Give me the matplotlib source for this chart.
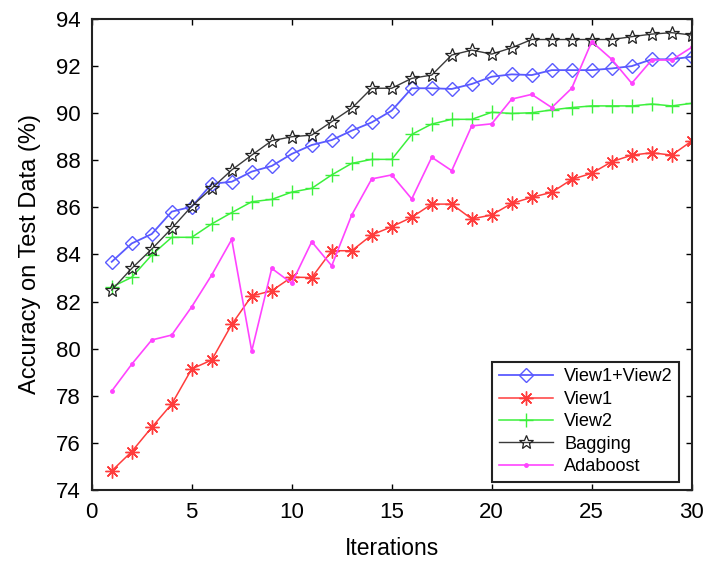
import matplotlib
matplotlib.use("Agg")
import matplotlib.pyplot as plt
import numpy as np

plt.rcParams['font.family'] = ['Liberation Sans', 'DejaVu Sans']

iterations = list(range(1, 31))

view12 = [83.69, 84.47, 84.87, 85.82, 86.03, 87.00, 87.09, 87.52, 87.76, 88.27,
          88.65, 88.86, 89.26, 89.61, 90.11, 91.06, 91.06, 91.03, 91.24, 91.55,
          91.65, 91.62, 91.83, 91.83, 91.83, 91.90, 92.00, 92.29, 92.29, 92.40]
view1 = [74.81, 75.63, 76.66, 77.65, 79.14, 79.52, 81.03, 82.24, 82.46, 83.04,
         83.02, 84.16, 84.16, 84.83, 85.18, 85.58, 86.14, 86.14, 85.51, 85.68,
         86.17, 86.43, 86.64, 87.19, 87.45, 87.94, 88.22, 88.32, 88.22, 88.82]
view2 = [82.62, 83.03, 83.98, 84.73, 84.73, 85.30, 85.78, 86.24, 86.34, 86.65,
         86.81, 87.38, 87.87, 88.04, 88.04, 89.10, 89.54, 89.74, 89.74, 90.04,
         89.99, 90.02, 90.14, 90.24, 90.31, 90.31, 90.31, 90.39, 90.31, 90.42]
bagging = [82.49, 83.41, 84.23, 85.11, 86.05, 86.81, 87.59, 88.22, 88.83, 89.00,
           89.07, 89.64, 90.21, 91.06, 91.06, 91.48, 91.62, 92.47, 92.68, 92.51,
           92.78, 93.13, 93.13, 93.13, 93.13, 93.13, 93.25, 93.36, 93.42, 93.32]
adaboost = [78.20, 79.34, 80.37, 80.58, 81.78, 83.13, 84.64, 79.90, 83.41, 82.78,
            84.54, 83.52, 85.68, 87.21, 87.38, 86.36, 88.13, 87.56, 89.46, 89.55,
            90.60, 90.80, 90.24, 91.06, 93.04, 92.29, 91.27, 92.26, 92.26, 92.80]

x_ticks = [0, 5, 10, 15, 20, 25, 30]
y_ticks = [74, 76, 78, 80, 82, 84, 86, 88, 90, 92, 94]

fig = plt.figure(figsize=(7.04, 5.61), dpi=100)
ax = fig.add_axes([0.1303, 0.1266, 0.8523, 0.8395])

asterisk = (8, 2, 0)

ax.plot(iterations, view12, color='#5a5aff', lw=1.3, marker='D', ms=7,
        mfc='none', mec='#5a5aff', mew=1.0, label='View1+View2')
ax.plot(iterations, view1, color='#ff3c3c', lw=1.1, marker=asterisk, ms=10,
        mec='#ff3c3c', mew=1.0, label='View1')
ax.plot(iterations, view2, color='#3cf03c', lw=1.1, marker='+', ms=10,
        mec='#3cf03c', mew=1.0, label='View2')
ax.plot(iterations, bagging, color='#3a3a3a', lw=1.0, marker='*', ms=10,
        mfc='none', mec='#222222', mew=0.9, label='Bagging')
ax.plot(iterations, adaboost, color='#ff44ff', lw=1.2, marker='.', ms=5,
        label='Adaboost')

ax.set_xlim(0, 30)
ax.set_ylim(74, 94)
ax.set_xticks(x_ticks)
ax.set_yticks(y_ticks)
ax.tick_params(direction='in', length=4, width=1.0, top=True, right=True,
               labelsize=16)
ax.tick_params(axis='x', pad=9)
ax.tick_params(axis='y', pad=8)
for s in ax.spines.values():
    s.set_linewidth(1.5)
    s.set_color('#222222')

ax.set_xlabel('Iterations', fontsize=16.5, labelpad=10)
ax.set_ylabel('Accuracy on Test Data (%)', fontsize=17, labelpad=11)

leg = ax.legend(loc='lower right', bbox_to_anchor=(0.979, 0.0176),
                borderaxespad=0, fontsize=13.1, handlelength=3.0,
                handletextpad=0.6, labelspacing=0.3, borderpad=0.35,
                fancybox=False, framealpha=1)
leg.get_frame().set_edgecolor('#222222')
leg.get_frame().set_linewidth(1.5)

fig.savefig('out.png', dpi=100)
